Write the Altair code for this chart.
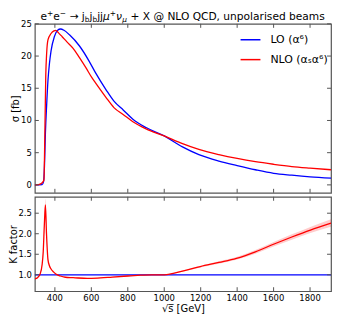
import altair as alt
import pandas as pd

# ---------------- data ----------------
lo_s = [290, 330, 338, 343, 348, 355, 362, 370, 379, 397, 415, 431, 450, 480, 534, 586,
        621, 680, 724, 776, 828, 900, 1000, 1100, 1190, 1300, 1400, 1500, 1600, 1700, 1800, 1915]
lo_sig = [0.0, 0.05, 0.5, 3.0, 8.0, 12.5, 16.2, 18.8, 20.8, 23.0, 24.0, 24.2, 24.0, 23.3, 21.6, 19.3,
          17.5, 14.8, 13.0, 11.6, 10.2, 8.9, 7.6, 5.9, 4.7, 3.7, 3.0, 2.35, 1.8, 1.5, 1.25, 1.05]

nlo_s = [290, 310, 325, 335, 340, 345, 350, 355, 362, 379, 395, 405, 420, 440, 466, 500, 534,
         570, 604, 621, 680, 724, 776, 828, 900, 1000, 1100, 1190, 1300, 1400, 1500, 1600, 1700, 1800, 1915]
nlo_sig = [0.0, 0.05, 0.2, 0.5, 0.8, 8.0, 17.0, 20.5, 22.5, 23.5, 23.9, 24.0, 23.6, 23.0, 22.2, 21.2, 19.8,
           18.2, 16.6, 15.9, 13.6, 12.0, 10.9, 9.8, 8.7, 7.6, 6.4, 5.5, 4.7, 4.1, 3.6, 3.2, 2.85, 2.6, 2.35]

k_s = [290, 305, 319, 330, 336, 342, 348, 354, 362, 370, 379, 392, 405, 430, 457, 500, 578, 650,
       715, 800, 853, 931, 1000, 1100, 1198, 1300, 1396, 1500, 1603, 1700, 1802, 1915]
k_val = [0.90, 0.93, 1.02, 1.25, 1.56, 2.2, 2.7, 2.0, 1.37, 1.22, 1.14, 1.07, 1.02, 0.97, 0.94, 0.93, 0.91, 0.925,
         0.945, 0.97, 0.985, 1.0, 1.0, 1.09, 1.2, 1.3, 1.40, 1.56, 1.75, 1.92, 2.09, 2.26]
k_err = [0.01, 0.01, 0.02, 0.04, 0.06, 0.1, 0.15, 0.1, 0.05, 0.03, 0.02, 0.01, 0.01, 0.01, 0.01, 0.01, 0.01, 0.01,
         0.01, 0.01, 0.01, 0.01, 0.01, 0.015, 0.02, 0.03, 0.035, 0.045, 0.055, 0.065, 0.075, 0.09]

lo_ratio_s = [290, 1915]
lo_ratio = [1.0, 1.0]

series_names = ["LO (α⁶)", "NLO (αₛα⁶)"]
series_colors = ["#0000ff", "#ff0000"]

x_ticks = [400, 600, 800, 1000, 1200, 1400, 1600, 1800]
y_ticks_top = [0, 5, 10, 15, 20, 25]
y_ticks_bot = [1.0, 1.5, 2.0, 2.5]

# ---------------- layout ----------------
W = 298
H1 = 170
H2 = 95
FONT = "DejaVu Sans"
TICKC = "#555555"
LBL = 8.5

xscale = alt.Scale(domain=[290, 1915], nice=False, zero=False)
yscale_top = alt.Scale(domain=[-1.23, 25], nice=False, zero=False)
yscale_bot = alt.Scale(domain=[0.6, 2.9], nice=False, zero=False)

AX = dict(ticks=False, domain=False, grid=False, labels=False,
          titleFont=FONT, titleFontSize=10, titleFontWeight="normal", titleColor="black")


def tick_layers(yscale, yvals, H, yfmt, with_xlabels):
    xt = pd.DataFrame({"t": x_ticks})
    yt = pd.DataFrame({"t": yvals})
    c = dict(color=TICKC, strokeWidth=1)
    xenc = alt.X("t:Q", scale=xscale, axis=None)
    yenc = alt.Y("t:Q", scale=yscale, axis=None)
    layers = [
        alt.Chart(xt).mark_rule(**c).encode(x=xenc, y=alt.value(H), y2=alt.value(H - 4)),
        alt.Chart(xt).mark_rule(**c).encode(x=xenc, y=alt.value(0), y2=alt.value(4)),
        alt.Chart(yt).mark_rule(**c).encode(y=yenc, x=alt.value(0), x2=alt.value(4)),
        alt.Chart(yt).mark_rule(**c).encode(y=yenc, x=alt.value(W - 4), x2=alt.value(W)),
        alt.Chart(yt).mark_text(align="right", baseline="middle", font=FONT, fontSize=LBL,
                                color="black").encode(
            y=yenc, x=alt.value(-3), text=alt.Text("t:Q", format=yfmt)),
    ]
    if with_xlabels:
        layers.append(
            alt.Chart(xt).mark_text(align="center", baseline="top", font=FONT, fontSize=LBL,
                                    color="black").encode(
                x=xenc, y=alt.value(H + 3), text=alt.Text("t:Q", format="d")))
    return layers


# ---------------- top panel ----------------
df_sig = pd.concat([
    pd.DataFrame({"s": lo_s, "v": lo_sig, "series": series_names[0]}),
    pd.DataFrame({"s": nlo_s, "v": nlo_sig, "series": series_names[1]}),
])

lines_top = alt.Chart(df_sig).mark_line(strokeWidth=1.3, interpolate="monotone", clip=True).encode(
    x=alt.X("s:Q", scale=xscale, axis=None),
    y=alt.Y("v:Q", scale=yscale_top,
            axis=alt.Axis(title="σ [fb]", orient="left", titlePadding=14, **AX)),
    color=alt.Color("series:N", scale=alt.Scale(domain=series_names, range=series_colors),
                    legend=alt.Legend(title=None, orient="none", legendX=206, legendY=5,
                                      symbolType="stroke", symbolSize=400, symbolStrokeWidth=1.5,
                                      labelFontSize=11, labelFont=FONT, labelColor="black",
                                      rowPadding=4, labelOffset=9)),
)

# title built from pieces (super/subscripts)
W_EM = {"e": 0.615, "+": 0.838, "−": 0.838, "→": 0.838, " ": 0.318, "j": 0.278, "b": 0.635,
        "μ": 0.636, "ν": 0.592, "X": 0.685, "@": 1.0, "N": 0.748, "L": 0.557, "O": 0.787,
        "Q": 0.787, "C": 0.698, "D": 0.770, ",": 0.318, "u": 0.634, "n": 0.634, "p": 0.635,
        "o": 0.612, "l": 0.278, "a": 0.613, "r": 0.411, "i": 0.278, "s": 0.521, "d": 0.635, "m": 0.974}
TF = 10.7
SF = TF * 0.7


def tw(t, fs):
    return sum(W_EM.get(ch, 0.6) for ch in t) * fs


segments = [("e", "n", False), ("+", "sup", False), ("e", "n", False), ("−", "sup", False),
            (" ", "n", False), ("→", "n", False), (" ", "n", False),
            ("j", "n", False), ("b", "sub", False), ("j", "n", False), ("b", "sub", False),
            ("jj", "n", False), ("μ", "n", True), ("+", "sup", False), ("ν", "n", True),
            ("μ", "sub", True), (" ", "n", False), ("+ X @ NLO QCD, unpolarised beams", "n", False)]

total = sum(tw(t, TF if k == "n" else SF) for t, k, _ in segments)
x0 = W / 2 - total / 2
base = -4
title_layers = []
cx = x0
for t, k, it in segments:
    fs = TF if k == "n" else SF
    if t.strip():
        yy = base if k == "n" else (base - 4.0 if k == "sup" else base + 2.5)
        title_layers.append(
            alt.Chart(pd.DataFrame({"t": [t]})).mark_text(
                align="left", baseline="alphabetic", font=FONT, fontSize=fs, color="black",
                fontStyle="italic" if it else "normal").encode(
                text="t:N", x=alt.value(cx), y=alt.value(yy)))
    cx += tw(t, fs)

top = (
    alt.layer(lines_top, *tick_layers(yscale_top, y_ticks_top, H1, "d", False), *title_layers)
    .resolve_axis(x="independent", y="independent")
    .properties(width=W, height=H1)
)

# ---------------- bottom panel ----------------
kdf = pd.DataFrame({"s": k_s, "k": k_val,
                    "lo": [a - b for a, b in zip(k_val, k_err)],
                    "hi": [a + b for a, b in zip(k_val, k_err)]})

band = alt.Chart(kdf).mark_area(color="#ff0000", opacity=0.2, interpolate="monotone", clip=True).encode(
    x=alt.X("s:Q", scale=xscale, axis=None),
    y=alt.Y("lo:Q", scale=yscale_bot, axis=None),
    y2="hi:Q",
)
lo_line = alt.Chart(pd.DataFrame({"s": lo_ratio_s, "k": lo_ratio})).mark_line(
    color="#0000ff", strokeWidth=1.3, clip=True).encode(
    x=alt.X("s:Q", scale=xscale, axis=None),
    y=alt.Y("k:Q", scale=yscale_bot, axis=None),
)
k_line = alt.Chart(kdf).mark_line(color="#ff0000", strokeWidth=1.3, interpolate="monotone", clip=True).encode(
    x=alt.X("s:Q", scale=xscale,
            axis=alt.Axis(title="√s̅ [GeV]", orient="bottom", titlePadding=12, **AX)),
    y=alt.Y("k:Q", scale=yscale_bot,
            axis=alt.Axis(title="K factor", orient="left", titlePadding=16, **AX)),
)

bottom = (
    alt.layer(band, lo_line, k_line, *tick_layers(yscale_bot, y_ticks_bot, H2, ".1f", True))
    .resolve_axis(x="independent", y="independent")
    .properties(width=W, height=H2)
)

chart = (
    alt.vconcat(top, bottom, spacing=0)
    .resolve_legend(color="independent")
    .configure(font=FONT, padding=0, background="white")
    .configure_view(stroke=TICKC, strokeWidth=1.2)
)

chart.save("out.html", embed_options={"renderer": "svg", "actions": False})
